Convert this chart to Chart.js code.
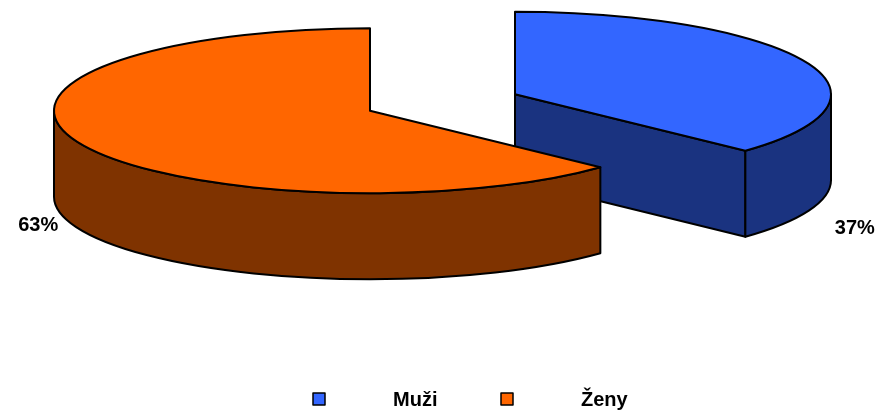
<!DOCTYPE html>
<html>
<head>
<meta charset="utf-8">
<script src="https://cdn.jsdelivr.net/npm/chart.js@4/dist/chart.umd.min.js"></script>
<style>
  body { margin: 0; background: #fff; }
  #wrap { width: 882px; height: 413px; }
</style>
</head>
<body>
<div id="wrap"><canvas id="kolac"></canvas></div>
<script>
const labels = ["Muži", "Ženy"];
const values = [37, 63];

const topColors = ["#3366FF", "#FF6600"];
const sideColors = ["#1A3380", "#7F3300"];

// geometry of the tilted pie (pixels)
const CX = 442.5, CY = 102.5;
const RX = 316, RY = 82.5;
const DEPTH = 86;
const EXPLODE = 79;

function pt(sl, t, dz) {
  return [sl.x + RX * Math.cos(t), sl.y + RY * Math.sin(t) + dz];
}

function stroked(ctx, fill) {
  ctx.fillStyle = fill;
  ctx.fill();
  ctx.stroke();
}

const pie3d = {
  id: "pie3d",
  beforeDatasetsDraw(chart) {
    const ctx = chart.ctx;
    const meta = chart.getDatasetMeta(0);
    const total = values.reduce((a, b) => a + b, 0);

    const slices = meta.data.map((arc, i) => {
      const mid = (arc.startAngle + arc.endAngle) / 2;
      return {
        i: i,
        s: arc.startAngle,
        e: arc.endAngle,
        mid: mid,
        x: CX + Math.cos(mid) * EXPLODE,
        y: CY + Math.sin(mid) * EXPLODE * RY / RX,
      };
    });

    ctx.save();
    ctx.lineWidth = 2;
    ctx.strokeStyle = "#000";
    ctx.lineJoin = "round";

    // back slices first
    const order = slices.slice().sort((a, b) => a.y - b.y);
    order.forEach((sl) => {
      // radial faces facing the viewer
      const faces = [];
      if (Math.cos(sl.s) < -1e-6) faces.push(sl.s);
      if (Math.cos(sl.e) > 1e-6) faces.push(sl.e);
      faces.forEach((a) => {
        const p = pt(sl, a, 0);
        const q = pt(sl, a, DEPTH);
        ctx.beginPath();
        ctx.moveTo(sl.x, sl.y);
        ctx.lineTo(p[0], p[1]);
        ctx.lineTo(q[0], q[1]);
        ctx.lineTo(sl.x, sl.y + DEPTH);
        ctx.closePath();
        stroked(ctx, sideColors[sl.i]);
      });

      // outer wall, front half only
      for (let k = -1; k <= 1; k++) {
        const a0 = Math.max(sl.s, 2 * Math.PI * k);
        const a1 = Math.min(sl.e, 2 * Math.PI * k + Math.PI);
        if (a1 - a0 <= 1e-6) continue;
        const b1 = pt(sl, a1, DEPTH);
        const t0 = pt(sl, a0, 0);
        ctx.beginPath();
        ctx.moveTo(t0[0], t0[1]);
        ctx.ellipse(sl.x, sl.y, RX, RY, 0, a0, a1);
        ctx.lineTo(b1[0], b1[1]);
        ctx.ellipse(sl.x, sl.y + DEPTH, RX, RY, 0, a1, a0, true);
        ctx.closePath();
        stroked(ctx, sideColors[sl.i]);
      }

      // top face
      ctx.beginPath();
      ctx.moveTo(sl.x, sl.y);
      ctx.ellipse(sl.x, sl.y, RX, RY, 0, sl.s, sl.e);
      ctx.closePath();
      stroked(ctx, topColors[sl.i]);
    });

    // percentage labels
    ctx.fillStyle = "#000";
    ctx.font = "bold 20px 'Liberation Sans', Arial, sans-serif";
    ctx.textAlign = "center";
    ctx.textBaseline = "middle";
    slices.forEach((sl) => {
      const pct = Math.round((values[sl.i] / total) * 100) + "%";
      const x = sl.x + Math.cos(sl.mid) * RX * 1.158 + 4;
      const y = CY + RY + 42 - Math.sin(sl.mid) * 4;
      ctx.fillText(pct, x, y);
    });

    // legend
    ctx.textAlign = "left";
    ctx.lineWidth = 1.5;
    labels.forEach((lab, i) => {
      const bx = 313 + i * 188;
      const by = 393;
      ctx.fillStyle = topColors[i];
      ctx.fillRect(bx, by, 12, 12);
      ctx.strokeRect(bx, by, 12, 12);
      ctx.fillStyle = "#000";
      ctx.fillText(lab, bx + 80, by + 7);
    });

    ctx.restore();
    return false;
  },
};

new Chart(document.getElementById("kolac"), {
  type: "pie",
  data: {
    labels: labels,
    datasets: [
      {
        data: values,
        backgroundColor: topColors,
        borderColor: "#000",
      },
    ],
  },
  options: {
    responsive: true,
    maintainAspectRatio: false,
    animation: false,
    events: [],
    plugins: {
      legend: { display: false },
      tooltip: { enabled: false },
    },
  },
  plugins: [pie3d],
});
</script>
</body>
</html>
